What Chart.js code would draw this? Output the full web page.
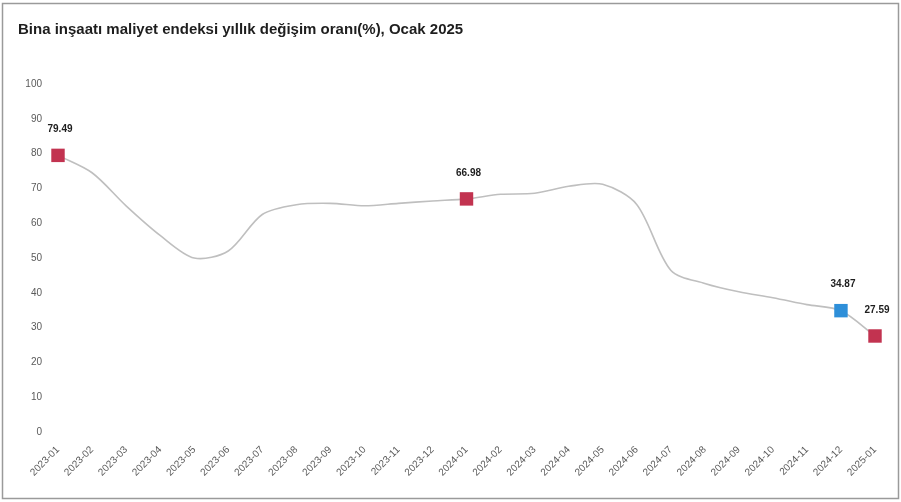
<!DOCTYPE html>
<html lang="tr">
<head>
<meta charset="utf-8">
<title>Bina inşaatı maliyet endeksi</title>
<script src="https://cdn.jsdelivr.net/npm/chart.js@4/dist/chart.umd.min.js"></script>
<style>
  html, body { margin: 0; padding: 0; background: #ffffff; }
  #wrap { width: 901px; height: 502px; position: relative; }
</style>
</head>
<body>
<div id="wrap"><canvas id="c" width="901" height="502"></canvas></div>
<script>
// Month labels, Ocak 2023 – Ocak 2025
const months = [
  '2023-01','2023-02','2023-03','2023-04','2023-05','2023-06','2023-07','2023-08',
  '2023-09','2023-10','2023-11','2023-12','2024-01','2024-02','2024-03','2024-04',
  '2024-05','2024-06','2024-07','2024-08','2024-09','2024-10','2024-11','2024-12','2025-01'
];

// Annual change of the building construction cost index (%)
const annualChange = [
  79.49, 74.5, 65.0, 56.5, 50.0, 52.0, 62.5, 65.3,
  65.7, 65.0, 65.7, 66.4, 66.98, 68.3, 68.6, 70.6,
  71.2, 65.4, 46.5, 42.7, 40.3, 38.6, 36.6, 34.87, 27.59
];

// Months that get a square marker and a value label, with their colours
const highlighted = ['2023-01', '2024-01', '2024-12', '2025-01'];
const highlightColors = ['#c23350', '#c23350', '#2e8fd9', '#c23350'];

const yTicks = [0, 10, 20, 30, 40, 50, 60, 70, 80, 90, 100];

const titleText = 'Bina inşaatı maliyet endeksi yıllık değişim oranı(%), Ocak 2025';

const markerColor = ctx => {
  const k = highlighted.indexOf(months[ctx.dataIndex]);
  return k >= 0 ? highlightColors[k] : 'rgba(0,0,0,0)';
};
const markerRadius = ctx => highlighted.includes(months[ctx.dataIndex]) ? 9.5 : 0;

// Outer frame and the title
const framePlugin = {
  id: 'frame',
  beforeDraw(chart) {
    const { ctx } = chart;
    ctx.save();
    ctx.strokeStyle = '#9a9a9a';
    ctx.lineWidth = 1.5;
    ctx.strokeRect(2.5, 3.5, 896, 495);
    ctx.fillStyle = '#1e1e1e';
    ctx.font = 'bold 15px "Liberation Sans", Arial, sans-serif';
    ctx.textBaseline = 'middle';
    ctx.textAlign = 'left';
    ctx.fillText(titleText, 18, 30);
    ctx.restore();
  }
};

// Value labels above the highlighted points
const valueLabels = {
  id: 'valueLabels',
  afterDatasetsDraw(chart) {
    const { ctx } = chart;
    const meta = chart.getDatasetMeta(0);
    ctx.save();
    ctx.fillStyle = '#1e1e1e';
    ctx.font = 'bold 10px "Liberation Sans", Arial, sans-serif';
    ctx.textAlign = 'center';
    ctx.textBaseline = 'middle';
    meta.data.forEach((pt, i) => {
      if (!highlighted.includes(months[i])) return;
      ctx.fillText(annualChange[i].toFixed(2), pt.x + 2, pt.y - 26);
    });
    ctx.restore();
  }
};

new Chart(document.getElementById('c'), {
  type: 'line',
  data: {
    labels: months,
    datasets: [{
      data: annualChange,
      borderColor: '#bfbfbf',
      borderWidth: 1.6,
      tension: 0.3,
      pointStyle: 'rect',
      pointRadius: markerRadius,
      pointHoverRadius: markerRadius,
      pointBackgroundColor: markerColor,
      pointBorderColor: markerColor,
      pointBorderWidth: 0,
      clip: false
    }]
  },
  options: {
    responsive: false,
    animation: false,
    devicePixelRatio: 1,
    layout: { padding: { left: 18, right: 26, top: 84, bottom: 10 } },
    plugins: {
      legend: { display: false },
      tooltip: { enabled: false },
      title: { display: false }
    },
    scales: {
      x: {
        offset: false,
        grid: { display: false, drawTicks: false },
        border: { display: false },
        ticks: {
          color: '#5a5a5a',
          font: { size: 10, family: '"Liberation Sans", Arial, sans-serif' },
          minRotation: 45,
          maxRotation: 45,
          autoSkip: false,
          padding: 12
        },
        afterFit: s => { s.height = 60; }
      },
      y: {
        min: 0,
        max: 100,
        grid: { display: false, drawTicks: false },
        border: { display: false },
        afterBuildTicks: s => { s.ticks = yTicks.map(v => ({ value: v })); },
        ticks: {
          color: '#5a5a5a',
          font: { size: 10, family: '"Liberation Sans", Arial, sans-serif' },
          padding: 16
        },
        afterFit: s => { s.width = 40; }
      }
    }
  },
  plugins: [framePlugin, valueLabels]
});
</script>
</body>
</html>
